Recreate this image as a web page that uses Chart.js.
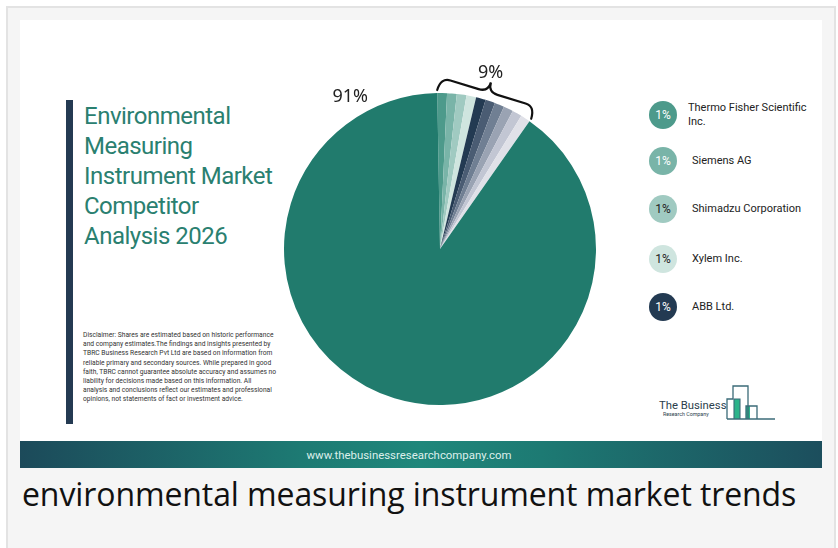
<!DOCTYPE html>
<html>
<head>
<meta charset="utf-8">
<script src="https://cdn.jsdelivr.net/npm/chart.js@4.4.1/dist/chart.umd.min.js"></script>
<style>
  html, body { margin: 0; padding: 0; background: #ffffff; width: 838px; height: 548px; overflow: hidden; }
  .frame { position: absolute; left: 6px; top: 6px; width: 826px; height: 560px; border: 2px solid #e3e3e3; background: #f5f5f5; }
  .card { position: absolute; left: 20px; top: 20px; width: 802px; height: 421px; background: #ffffff; }
  .bar { position: absolute; left: 66px; top: 100px; width: 7px; height: 324px; background: #243a52; }
  .title { position: absolute; left: 84px; top: 101px; font-family: Roboto, sans-serif; font-size: 24px; line-height: 30px; color: #2a8070; letter-spacing: -0.5px; }
  .disclaimer { position: absolute; left: 83px; top: 331px; font-family: Roboto, sans-serif; font-size: 6.7px; line-height: 9.2px; color: #333; white-space: nowrap; }
  #pie { position: absolute; left: 260px; top: 40px; }
  .legend-item { position: absolute; left: 649px; height: 28px; display: flex; align-items: center; }
  .dot { width: 28px; height: 28px; border-radius: 50%; display: flex; align-items: center; justify-content: center; font-family: Roboto, sans-serif; font-size: 12px; }
  .name { font-family: Roboto, sans-serif; font-size: 11px; line-height: 14px; color: #222; }
  .footer { position: absolute; left: 20px; top: 441px; width: 778px; padding-right: 24px; height: 27px; background: linear-gradient(90deg, #1c4a5a 0%, #1d7a73 35%, #1f877b 50%, #1d7a73 65%, #1c4e5d 100%); color: #dcefeb; font-family: Roboto, sans-serif; font-size: 11.4px; text-align: center; line-height: 28px; }
  .caption { position: absolute; left: 22px; top: 472px; font-family: "Open Sans", sans-serif; font-size: 32px; color: #111; letter-spacing: -0.1px; }
  .logo { position: absolute; left: 655px; top: 382px; }
</style>
</head>
<body>
<div class="frame"></div>
<div class="card"></div>
<div class="bar"></div>
<div class="title">Environmental<br>Measuring<br>Instrument Market<br>Competitor<br>Analysis 2026</div>
<div class="disclaimer">Disclaimer: Shares are estimated based on historic performance<br>and company estimates.The findings and insights presented by<br>TBRC Business Research Pvt Ltd are based on information from<br>reliable primary and secondary sources. While prepared in good<br>faith, TBRC cannot guarantee absolute accuracy and assumes no<br>liability for decisions made based on this information. All<br>analysis and conclusions reflect our estimates and professional<br>opinions, not statements of fact or investment advice.</div>
<canvas id="pie" width="360" height="380"></canvas>
<div id="legend"></div>
<svg class="logo" width="130" height="45" viewBox="655 382 130 45">
  <text x="659" y="409" font-family="Roboto, sans-serif" font-size="11.3" fill="#2b3e4c">The Business</text>
  <text x="663" y="416" font-family="Roboto, sans-serif" font-size="5.3" fill="#2b3e4c">Research Company</text>
  <rect x="734" y="399" width="6" height="20" fill="#2bb38a"/>
  <rect x="746" y="406" width="4" height="13" fill="#2bb38a"/>
  <polyline points="727,419 727,399 733,399 733,386 748,386 748,419" fill="none" stroke="#3b6b78" stroke-width="1.3"/>
  <polyline points="734,419 734,399 740,399 740,419" fill="none" stroke="#3b6b78" stroke-width="1.1"/>
  <polyline points="746,419 746,406 757,406 757,419" fill="none" stroke="#3b6b78" stroke-width="1.3"/>
  <line x1="727" y1="419" x2="775" y2="419" stroke="#3b6b78" stroke-width="1.3"/>
</svg>
<div class="footer">www.thebusinessresearchcompany.com</div>
<div class="caption">environmental measuring instrument market trends</div>
<script>
// slices: ten top companies (1% each) and the rest of the market
const sliceLabels = ['Thermo Fisher Scientific Inc.', 'Siemens AG', 'Shimadzu Corporation', 'Xylem Inc.', 'ABB Ltd.', '', '', '', '', '', 'Others'];
const sliceValues = [1, 1, 1, 1, 1, 1, 1, 1, 1, 1, 90];
const sliceColors = ['#4d9a8b', '#79b4a8', '#a0cac1', '#cfe5df', '#233a52', '#4a5c73', '#707f93', '#9aa3b3', '#c2c6d3', '#e0e1e8', '#217b6d'];

// legend (top five)
const legendNames = ['Thermo Fisher Scientific<br>Inc.', 'Siemens AG', 'Shimadzu Corporation', 'Xylem Inc.', 'ABB Ltd.'];
const legendShares = ['1%', '1%', '1%', '1%', '1%'];
const legendTextColors = ['#ffffff', '#ffffff', '#222222', '#222222', '#ffffff'];
const legendRows = [101, 147, 195, 245, 293];
const legendGaps = [11, 15, 15, 15, 15];

// pie annotations
const bigLabel = '91%';
const groupLabel = '9%';

const legendBox = document.getElementById('legend');
legendNames.forEach((name, i) => {
    const item = document.createElement('div');
    item.className = 'legend-item';
    item.style.top = legendRows[i] + 'px';
    item.innerHTML = `<div class="dot" style="background:${sliceColors[i]};color:${legendTextColors[i]}">${legendShares[i]}</div>` +
        `<div class="name" style="margin-left:${legendGaps[i]}px">${name}</div>`;
    legendBox.appendChild(item);
});

const annotations = {
    id: 'annotations',
    afterDraw(chart) {
        const arcs = chart.getDatasetMeta(0).data;
        const ctx = chart.ctx;
        const cx = arcs[0].x, cy = arcs[0].y, R = arcs[0].outerRadius;
        const polar = (a, r) => [cx + r * Math.cos(a), cy + r * Math.sin(a)];

        // curly brace over the small slices
        const a0 = arcs[0].startAngle, a1 = arcs[9].endAngle;
        const p0 = polar(a0, R + 3), p1 = polar(a1, R + 3);
        const L = Math.hypot(p1[0] - p0[0], p1[1] - p0[1]);
        const ux = (p1[0] - p0[0]) / L, uy = (p1[1] - p0[1]) / L;
        const nx = uy, ny = -ux;
        const pt = (s, t) => [p0[0] + ux * s + nx * t, p0[1] + uy * s + ny * t];
        const hb = 13, hc = 23, c = L * 0.1;
        ctx.save();
        ctx.strokeStyle = '#111';
        ctx.lineWidth = 2.2;
        ctx.lineCap = 'round';
        ctx.beginPath();
        ctx.moveTo(...pt(0, 0));
        ctx.quadraticCurveTo(...pt(0, hb), ...pt(c, hb));
        ctx.lineTo(...pt(L / 2 - c, hb));
        ctx.quadraticCurveTo(...pt(L / 2, hb), ...pt(L / 2, hc));
        ctx.quadraticCurveTo(...pt(L / 2, hb), ...pt(L / 2 + c, hb));
        ctx.lineTo(...pt(L - c, hb));
        ctx.quadraticCurveTo(...pt(L, hb), ...pt(L, 0));
        ctx.stroke();

        ctx.fillStyle = '#222';
        ctx.font = '18px "Noto Sans", sans-serif';
        ctx.textAlign = 'center';
        ctx.textBaseline = 'middle';
        const lp = pt(L / 2 - 3, hc + 9);
        ctx.fillText(groupLabel, lp[0], lp[1]);

        const big = arcs[10];
        const bp = polar(big.endAngle - 29.5 * Math.PI / 180, R + 21);
        ctx.fillText(bigLabel, bp[0], bp[1]);
        ctx.restore();
    }
};

new Chart(document.getElementById('pie'), {
    type: 'pie',
    data: {
        labels: sliceLabels,
        datasets: [{
            data: sliceValues,
            backgroundColor: sliceColors,
            borderWidth: 0,
            hoverOffset: 0
        }]
    },
    options: {
        responsive: false,
        animation: false,
        rotation: -1,
        layout: { padding: { left: 24, right: 24, top: 53, bottom: 15 } },
        plugins: { legend: { display: false }, tooltip: { enabled: false } }
    },
    plugins: [annotations]
});
</script>
</body>
</html>
